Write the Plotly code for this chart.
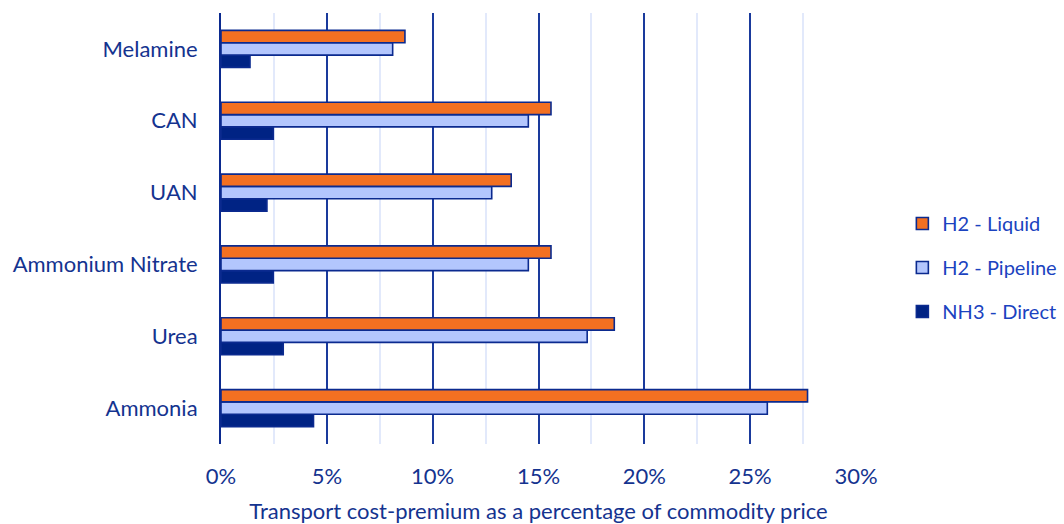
import plotly.graph_objects as go

# Commodities, listed bottom to top as drawn on the category axis
commodities = ["Ammonia", "Urea", "Ammonium Nitrate", "UAN", "CAN", "Melamine"]

# Transport cost-premium (% of commodity price) per carrier route
nh3_direct = [4.37, 2.94, 2.47, 2.17, 2.47, 1.37]
h2_pipeline = [25.81, 17.30, 14.52, 12.79, 14.52, 8.11]
h2_liquid = [27.71, 18.58, 15.59, 13.71, 15.59, 8.69]

x_ticks = [0, 5, 10, 15, 20, 25, 30]
x_tick_labels = ["0%", "5%", "10%", "15%", "20%", "25%", "30%"]

NAVY = "#0b2a8f"
TEXT = "#14338f"
LEGEND_TEXT = "#1b43c0"
FONT = "Lato"
SIZE = 22

# (name, values, fill colour, legend rank)
series = [
    ("NH3 - Direct", nh3_direct, "#002384", 3),
    ("H2 - Pipeline", h2_pipeline, "#b3c6fd", 2),
    ("H2 - Liquid", h2_liquid, "#f37021", 1),
]

fig = go.Figure()
for name, values, color, rank in series:
    fig.add_trace(go.Bar(
        name=name,
        y=commodities,
        x=values,
        orientation="h",
        legendgroup=name,
        legendrank=rank,
        marker=dict(color=color, line=dict(color=NAVY, width=1.6)),
    ))

fig.update_layout(
    width=1064,
    height=524,
    margin=dict(l=221, r=208, t=13, b=80, autoexpand=False),
    paper_bgcolor="white",
    plot_bgcolor="white",
    barmode="group",
    bargap=0.485,
    bargroupgap=0,
    font=dict(family=FONT, size=SIZE, color=TEXT),
    showlegend=True,
    legend=dict(
        x=1.073, y=0.557, xanchor="left", yanchor="top",
        traceorder="grouped",
        tracegroupgap=15,
        itemwidth=30,
        font=dict(family=FONT, size=20, color=LEGEND_TEXT),
        bgcolor="rgba(0,0,0,0)",
    ),
    xaxis=dict(
        range=[0, 30],
        tickvals=x_ticks,
        ticktext=x_tick_labels,
        showgrid=True,
        gridcolor="#1a3a9c",
        gridwidth=2,
        zeroline=False,
        showline=False,
        ticks="",
        automargin=False,
        ticklabelstandoff=17,
        minor=dict(dtick=2.5, showgrid=True, gridcolor="#e2e9fb", gridwidth=2),
        title=dict(text="Transport cost-premium as a percentage of commodity price",
                   font=dict(family=FONT, size=SIZE, color=TEXT), standoff=22),
        tickfont=dict(family=FONT, size=SIZE, color=TEXT),
    ),
    yaxis=dict(
        categoryorder="array",
        categoryarray=commodities,
        showgrid=False,
        showline=True,
        linecolor=NAVY,
        linewidth=2,
        ticks="",
        automargin=False,
        ticklabelstandoff=17,
        tickfont=dict(family=FONT, size=SIZE, color=TEXT),
    ),
)

fig.write_html("out.html")
